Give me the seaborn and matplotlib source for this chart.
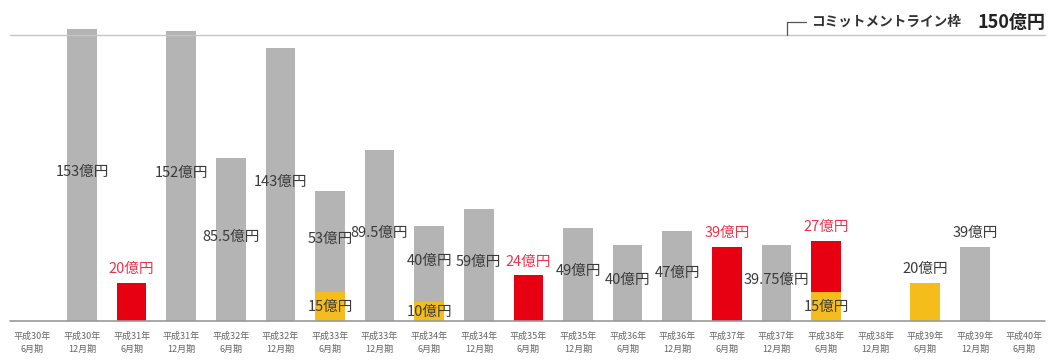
import numpy as np
import pandas as pd
import matplotlib
matplotlib.use("Agg")
import matplotlib.pyplot as plt
import matplotlib.transforms as mtransforms
import seaborn as sns

# =========================
# DATA
# =========================

periods = [
    "平成30年\n6月期", "平成30年\n12月期", "平成31年\n6月期", "平成31年\n12月期",
    "平成32年\n6月期", "平成32年\n12月期", "平成33年\n6月期", "平成33年\n12月期",
    "平成34年\n6月期", "平成34年\n12月期", "平成35年\n6月期", "平成35年\n12月期",
    "平成36年\n6月期", "平成36年\n12月期", "平成37年\n6月期", "平成37年\n12月期",
    "平成38年\n6月期", "平成38年\n12月期", "平成39年\n6月期", "平成39年\n12月期",
    "平成40年\n6月期",
]

yellow = [0, 0, 0, 0, 0, 0, 15, 0, 10, 0, 0, 0, 0, 0, 0, 0, 15, 0, 20, 0, 0]
red = [0, 0, 20, 0, 0, 0, 0, 0, 0, 0, 24, 0, 0, 0, 39, 0, 27, 0, 0, 0, 0]
gray = [0, 153, 0, 152, 85.5, 143, 53, 89.5, 40, 59, 0, 49, 40, 47, 0, 39.75,
        0, 0, 0, 39, 0]

commitment = 150

# =========================
# STYLE
# =========================

sns.set_style("white")
plt.rcParams['font.family'] = ['Noto Sans CJK JP', 'DejaVu Sans']

GRAY = "#b4b4b4"
RED = "#e60012"
YELLOW = "#f5bd1c"
TEXT = "#3a3a3a"
RED_TEXT = "#e8354c"

df = pd.DataFrame({
    "period": periods,
    "yellow": yellow,
    "gray_total": np.array(yellow) + np.array(gray),
    "red_total": np.array(yellow) + np.array(red),
})

# =========================
# FIGURE
# =========================

W, H = 1052, 361
fig = plt.figure(figsize=(W / 100, H / 100), dpi=100)

base_px = 40
ax = fig.add_axes([0, base_px / H, 1, (H - base_px) / H])

px_per_unit = 286 / 150
spacing = 49.6
x0 = 32.4
xmin = -x0 / spacing
xmax = xmin + W / spacing

# stacked bars: totals drawn first, yellow on top
sns.barplot(data=df, x="period", y="gray_total", order=periods,
            color=GRAY, width=0.6, linewidth=0, saturation=1, ax=ax)
sns.barplot(data=df, x="period", y="red_total", order=periods,
            color=RED, width=0.6, linewidth=0, saturation=1, ax=ax)
sns.barplot(data=df, x="period", y="yellow", order=periods,
            color=YELLOW, width=0.6, linewidth=0, saturation=1, ax=ax)

ax.set_xlim(xmin, xmax)
ax.set_ylim(0, (H - base_px) / px_per_unit)

# =========================
# VALUE LABELS
# =========================

def fmt(v):
    return f"{v:g}億円"

above_pad = 3.5
for i in range(len(periods)):
    y, r, g = yellow[i], red[i], gray[i]
    if g > 0:
        if i == len(periods) - 2:
            ax.text(i, y + g + above_pad, fmt(g), ha="center", va="bottom",
                    fontsize=10.5, color=TEXT)
        else:
            ax.text(i, y + g / 2 + 1.5, fmt(g), ha="center", va="center",
                    fontsize=10.5, color=TEXT)
    if r > 0:
        ax.text(i, y + r + above_pad, fmt(r), ha="center", va="bottom",
                fontsize=10.5, color=RED_TEXT)
    if y > 0:
        if g == 0 and r == 0:
            ax.text(i, y + above_pad, fmt(y), ha="center", va="bottom",
                    fontsize=10.5, color=TEXT)
        else:
            ax.text(i, y / 2, fmt(y), ha="center", va="center",
                    fontsize=10.5, color=TEXT)

# =========================
# LINES AND COMMITMENT NOTE
# =========================

ax.axhline(0, xmin=10 / W, xmax=1045 / W, color="#9a9a9a", lw=1.2, clip_on=False)
ax.axhline(commitment, xmin=10 / W, xmax=1045 / W, color="#c4c4c4", lw=1)

trans = mtransforms.blended_transform_factory(ax.transAxes, ax.transData)
y_note = (H - base_px - 22) / px_per_unit
ax.plot([787 / W, 787 / W, 806 / W], [commitment, y_note, y_note],
        color="#555555", lw=0.9, transform=trans, clip_on=False)
ax.text(811 / W, y_note, "コミットメントライン枠", transform=trans,
        ha="left", va="center", fontsize=9.8, fontweight="bold", color="#333333")
ax.text(1045 / W, y_note, f"{commitment}億円", transform=trans,
        ha="right", va="center", fontsize=13, fontweight="bold", color="#222222")

# =========================
# AXES
# =========================

ax.set_xlabel("")
ax.set_ylabel("")
ax.set_yticks([])
ax.tick_params(axis="x", length=0, pad=8, labelsize=6.5, labelcolor="#666666")
for lab in ax.get_xticklabels():
    lab.set_linespacing(1.5)
sns.despine(ax=ax, left=True, bottom=True)

plt.savefig("out.png", dpi=100)
plt.close()
